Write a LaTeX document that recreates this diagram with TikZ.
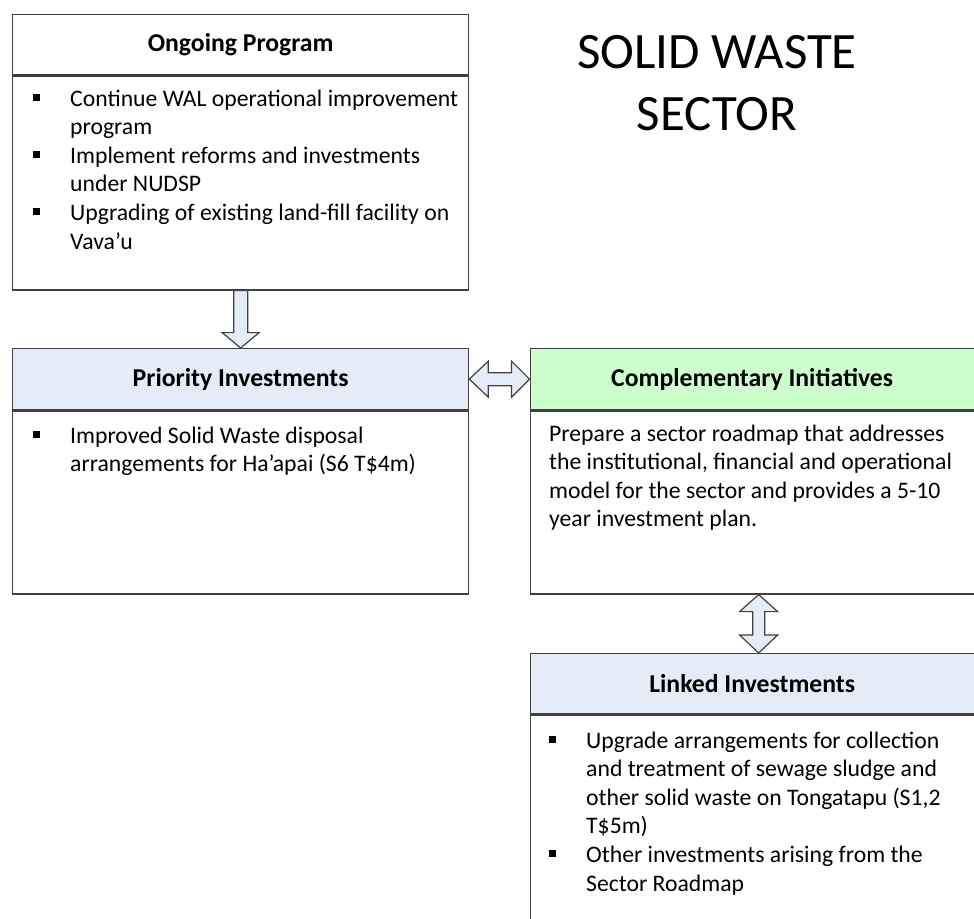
\documentclass[tikz,border=0pt]{standalone}
\usepackage{fontspec}
\setmainfont{Carlito}
\usetikzlibrary{calc}
\definecolor{hdrblue}{RGB}{230,236,247}
\definecolor{hdrgreen}{RGB}{204,255,204}
\definecolor{edgegray}{RGB}{64,64,64}
\newcommand{\bodyfont}{\fontsize{23.7bp}{28.6bp}\selectfont}
\newcommand{\headfont}{\fontsize{25.7bp}{30bp}\selectfont\bfseries}
\newcommand{\titlefont}{\fontsize{51bp}{62bp}\selectfont}
\newcommand{\bul}{\makebox[37bp][l]{\rule[5bp]{7bp}{7bp}}}
\newcommand{\ind}{\hspace*{37bp}}
\begin{document}
\begin{tikzpicture}[x=1bp,y=-1bp,
  hdr/.style={draw=edgegray, line width=1.3bp, minimum width=#1, minimum height=61bp, anchor=north west, inner sep=0pt, font=\headfont},
  bodybox/.style={draw=edgegray, line width=1.3bp, minimum width=#1, anchor=north west, inner sep=0pt},
  txt/.style={anchor=base west, inner sep=0pt, text width=#1, align=flush left, font=\bodyfont},
  blockarrow/.style={draw=edgegray, fill=hdrblue, line width=1.2bp, line join=miter}]
\clip (0,0) rectangle (974,919);
\fill[white] (0,0) rectangle (974,919);
% title
\node[anchor=base, inner sep=0pt, text width=420bp, align=flush center, font=\titlefont] (title) at (717,68) {SOLID WASTE\\SECTOR};
% ongoing
\node[hdr=456bp, minimum height=60bp] (ongh) at (12,14) {Ongoing Program};
\node[bodybox=456bp, minimum height=214bp] (ongb) at (ongh.south west) {};
\node[txt=430bp] (ongt) at (33,106) {\bul Continue WAL operational improvement\\
\ind program\\
\bul Implement reforms and investments\\
\ind under NUDSP\\
\bul Upgrading of existing land-fill facility on\\
\ind Vava’u};
% priority
\node[hdr=456bp, fill=hdrblue] (prih) at (12,348) {Priority Investments};
\node[bodybox=456bp, minimum height=183bp] (prib) at (prih.south west) {};
\node[txt=430bp] (prit) at (33,443) {\bul Improved Solid Waste disposal\\
\ind arrangements for Ha’apai (S6 T\$4m)};
% complementary
\node[hdr=444bp, fill=hdrgreen] (comph) at (529.5,348) {Complementary Initiatives};
\node[bodybox=444bp, minimum height=183bp] (compb) at (comph.south west) {};
\node[txt=420bp] (compt) at (549,441) {Prepare a sector roadmap that addresses\\
the institutional, financial and operational\\
model for the sector and provides a 5-10\\
year investment plan.};
% linked
\node[hdr=444bp, fill=hdrblue, minimum height=60bp] (linkh) at (529.5,653) {Linked Investments};
\node[bodybox=444bp, minimum height=230bp] (linkb) at (linkh.south west) {};
\node[txt=420bp] (linkt) at (549,748) {\bul Upgrade arrangements for collection\\
\ind and treatment of sewage sludge and\\
\ind other solid waste on Tongatapu (S1,2\\
\ind T\$5m)\\
\bul Other investments arising from the\\
\ind Sector Roadmap};
% down arrow
\coordinate (dtop) at (ongb.south);
\draw[blockarrow] ($(dtop)+(-7,0)$) -- ($(dtop)+(-7,42)$) -- ($(dtop)+(-18.5,42)$) -- (prih.north)
  -- ($(dtop)+(18.5,42)$) -- ($(dtop)+(7,42)$) -- ($(dtop)+(7,0)$) -- cycle;
% horizontal double arrow
\coordinate (hl) at (prih.east);
\coordinate (hr) at (comph.west);
\draw[blockarrow] (hl) -- ($(hl)+(19,-18)$) -- ($(hl)+(19,-6.5)$) -- ($(hr)+(-18,-6.5)$) -- ($(hr)+(-18,-18)$)
  -- (hr) -- ($(hr)+(-18,18)$) -- ($(hr)+(-18,6.5)$) -- ($(hl)+(19,6.5)$) -- ($(hl)+(19,18)$) -- cycle;
% vertical double arrow
\coordinate (vt) at ($(compb.south)+(6.5,0)$);
\coordinate (vb) at ($(linkh.north)+(6.5,0)$);
\draw[blockarrow] (vt) -- ($(vt)+(19,17)$) -- ($(vt)+(6,17)$) -- ($(vb)+(6,-18)$) -- ($(vb)+(19,-18)$)
  -- (vb) -- ($(vb)+(-19,-18)$) -- ($(vb)+(-6,-18)$) -- ($(vt)+(-6,17)$) -- ($(vt)+(-19,17)$) -- cycle;
\end{tikzpicture}
\end{document}
